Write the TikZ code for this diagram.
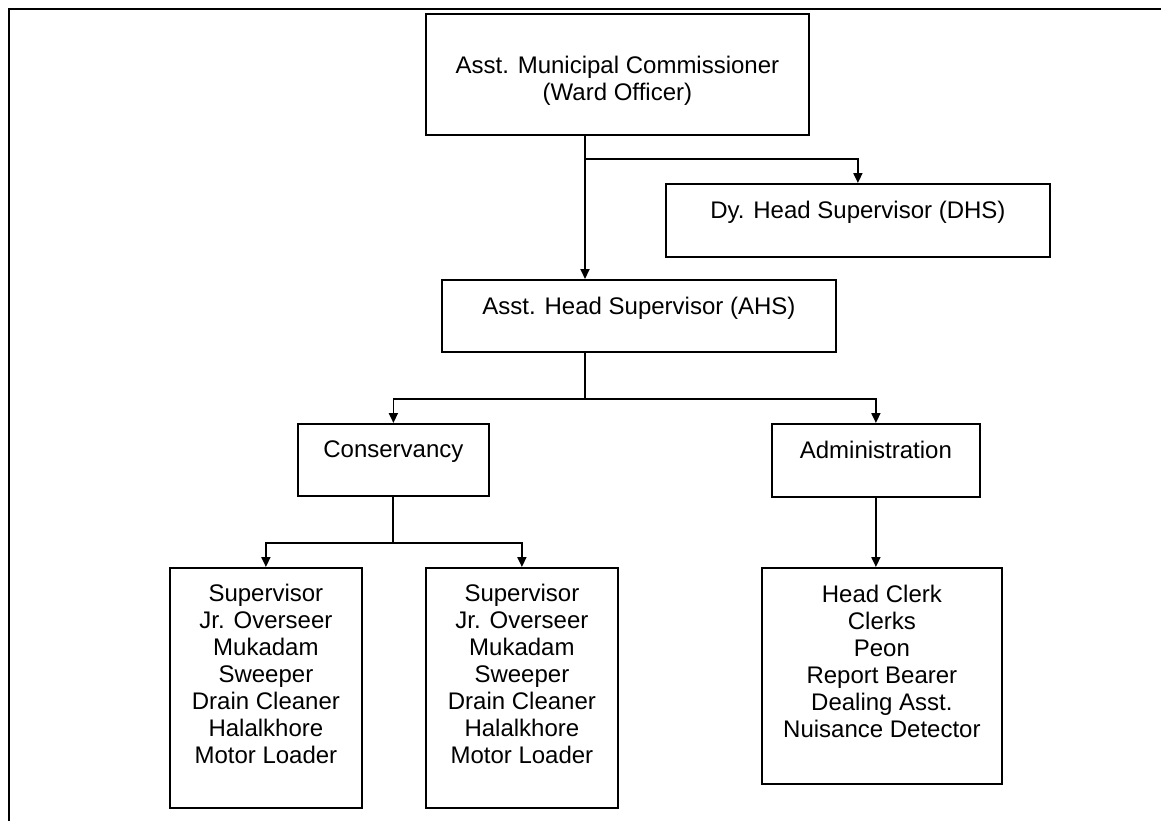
\documentclass[tikz,border=0pt]{standalone}
\usepackage{fontspec}
\setmainfont{Liberation Sans}
\usetikzlibrary{arrows.meta}
\begin{document}
\begin{tikzpicture}[x=1pt,y=-1pt,
  box/.style={draw, line width=1.8pt, rectangle, inner sep=0pt, anchor=north west},
  txt/.style={inner sep=0pt, anchor=north, align=center, font=\fontsize{24}{27}\selectfont},
  conn/.style={line width=1.8pt},
  arr/.style={line width=1.8pt, -{Triangle[length=10pt,width=9pt]}}]
\useasboundingbox (0,0) rectangle (1161,820);
\draw[line width=2.5pt] (9,830) -- (9,9) -- (1170,9);
% boxes
\node[box, minimum width=383pt, minimum height=121pt] (amc) at (425,13) {};
\node[txt] (amct) at ([yshift=-43pt]amc.north) {Asst. Municipal Commissioner\\(Ward Officer)};
\node[box, minimum width=384pt, minimum height=73pt] (dhs) at (665,183) {};
\node[txt] (dhst) at ([yshift=-18pt]dhs.north) {Dy. Head Supervisor (DHS)};
\node[box, minimum width=394pt, minimum height=72pt] (ahs) at (441,279) {};
\node[txt] (ahst) at ([yshift=-18pt]ahs.north) {Asst. Head Supervisor (AHS)};
\node[box, minimum width=191pt, minimum height=72pt] (cons) at (297,423) {};
\node[txt] (const) at ([yshift=-18pt]cons.north) {Conservancy};
\node[box, minimum width=208pt, minimum height=73pt] (adm) at (771,423) {};
\node[txt] (admt) at ([yshift=-18pt]adm.north) {Administration};
\node[box, minimum width=192pt, minimum height=240pt] (la) at (169,567) {};
\node[txt] (lat) at ([yshift=-17pt]la.north) {Supervisor\\Jr. Overseer\\Mukadam\\Sweeper\\Drain Cleaner\\Halalkhore\\Motor Loader};
\node[box, minimum width=192pt, minimum height=240pt] (lb) at (425,567) {};
\node[txt] (lbt) at ([yshift=-17pt]lb.north) {Supervisor\\Jr. Overseer\\Mukadam\\Sweeper\\Drain Cleaner\\Halalkhore\\Motor Loader};
\node[box, minimum width=240pt, minimum height=216pt] (adl) at (761,567) {};
\node[txt] (adlt) at ([yshift=-18pt]adl.north) {Head Clerk\\Clerks\\Peon\\Report Bearer\\Dealing Asst.\\Nuisance Detector};
% junctions
\coordinate (j1) at (585,159);
\coordinate (j2) at (585,399);
\coordinate (j3) at (393,543);
% connectors
\draw[arr] (amc.south -| j1) -- (ahs.north -| j1);
\draw[arr] (j1) -| (dhs.north);
\draw[conn] (ahs.south -| j2) -- (j2);
\draw[arr] (j2) -| (cons.north);
\draw[arr] (j2) -| (adm.north);
\draw[conn] (cons.south -| j3) -- (j3);
\draw[arr] (j3) -| (la.north);
\draw[arr] (j3) -| (lb.north);
\draw[arr] (adm.south) -- (adm.south |- adl.north);
\end{tikzpicture}
\end{document}
